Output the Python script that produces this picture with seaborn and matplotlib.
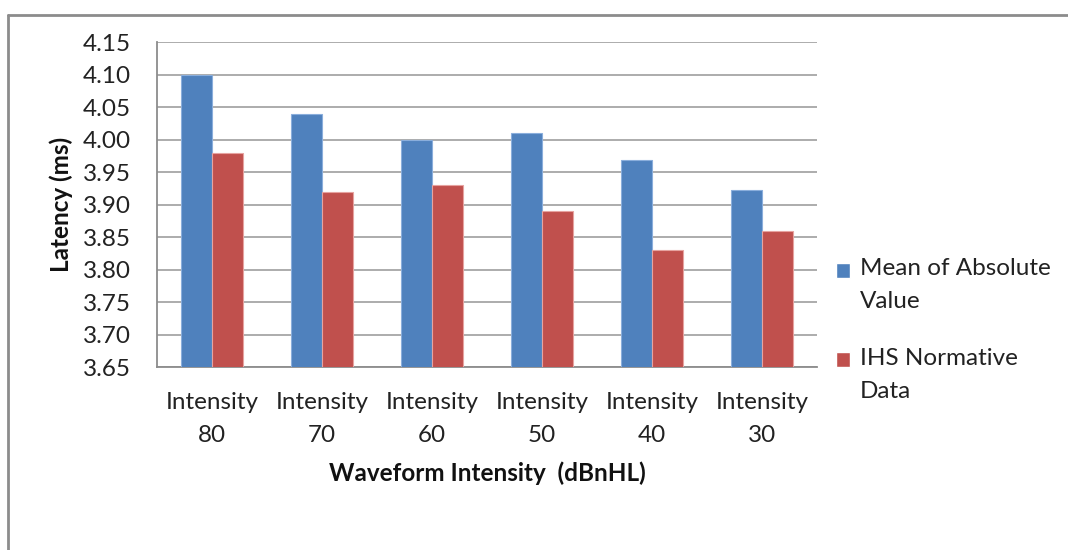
import matplotlib
matplotlib.use("Agg")
import matplotlib.pyplot as plt
import seaborn as sns
import pandas as pd
from matplotlib.lines import Line2D
from matplotlib.patches import Rectangle
from matplotlib.legend_handler import HandlerPatch

categories = ["Intensity\n80", "Intensity\n70", "Intensity\n60", "Intensity\n50", "Intensity\n40", "Intensity\n30"]
series_names = ["Mean of Absolute\nValue", "IHS Normative\nData"]
mean_abs = [4.10, 4.04, 4.00, 4.01, 3.968, 3.922]
ihs_norm = [3.98, 3.92, 3.93, 3.89, 3.83, 3.86]
y_ticks = [3.65, 3.70, 3.75, 3.80, 3.85, 3.90, 3.95, 4.00, 4.05, 4.10, 4.15]

df = pd.DataFrame({
    "cat": categories * 2,
    "series": [series_names[0]] * len(categories) + [series_names[1]] * len(categories),
    "val": mean_abs + ihs_norm,
})

sns.set_theme(style="white")
plt.rcParams["font.family"] = ["Lato", "DejaVu Sans"]

fig = plt.figure(figsize=(10.68, 5.5), dpi=100)
ax = fig.add_axes([0.147, 0.3327, 0.618, 0.5909])

palette = {series_names[0]: "#4F81BD", series_names[1]: "#C0504D"}
sns.barplot(data=df, x="cat", y="val", hue="series", palette=palette, order=categories,
            hue_order=series_names, width=0.565, saturation=1, ax=ax, zorder=3)
for cont, ec in zip(ax.containers, ["#8AAEDC", "#E6A3A0"]):
    for p in cont:
        p.set_edgecolor(ec)
        p.set_linewidth(0.8)
        p.set_zorder(3)

ax.set_ylim(3.65, 4.15)
ax.set_yticks(y_ticks)
ax.set_yticklabels([f"{t:.2f}" for t in y_ticks])
ax.set_xlim(-0.5, len(categories) - 0.5)
ax.yaxis.grid(True, color="#A6A6A6", linewidth=1.3, zorder=0)
ax.set_axisbelow(True)

ax.set_xticks([i for i in range(len(categories))])
ax.set_xticklabels(categories, fontsize=17.5, color="#222222", linespacing=1.7)
ax.tick_params(axis="x", length=0, pad=18)
ax.set_xticks([i - 0.5 for i in range(len(categories) + 1)], minor=True)
ax.tick_params(axis="x", which="minor", length=7, width=1.2, color="#8C8C8C", direction="out")
ax.tick_params(axis="y", length=7, width=1.2, color="#8C8C8C", direction="out", labelsize=17.5,
               labelcolor="#222222", pad=12)

for s in ["top", "right"]:
    ax.spines[s].set_visible(False)
for s in ["left", "bottom"]:
    ax.spines[s].set_color("#8C8C8C")
    ax.spines[s].set_linewidth(1.3)

ax.set_xlabel("Waveform Intensity  (dBnHL)", fontsize=17.5, fontweight="bold", labelpad=11, color="#111111")
ax.set_ylabel("Latency (ms)", fontsize=17.5, fontweight="bold", labelpad=7, color="#111111")


def top_aligned_patch(legend, orig_handle, xdescent, ydescent, width, height, fontsize):
    return Rectangle((-xdescent, -ydescent + 0.62 * fontsize), width, height)


ax.legend(loc="center left", bbox_to_anchor=(0.762, 0.400), bbox_transform=fig.transFigure,
          frameon=False, fontsize=17.5, handlelength=0.6, handleheight=0.6, handletextpad=0.4,
          labelspacing=1.45, title=None,
          handler_map={Rectangle: HandlerPatch(patch_func=top_aligned_patch)})
leg = ax.get_legend()
for t in leg.get_texts():
    t.set_color("#222222")
    t.set_linespacing(1.7)

fig.add_artist(Line2D([0.0075, 1.0], [1 - 15 / 550, 1 - 15 / 550], transform=fig.transFigure,
                      color="#8C8C8C", linewidth=2))
fig.add_artist(Line2D([0.0075, 0.0075], [0.0, 1 - 15 / 550], transform=fig.transFigure,
                      color="#8C8C8C", linewidth=2))

fig.savefig("out.png", dpi=100)
